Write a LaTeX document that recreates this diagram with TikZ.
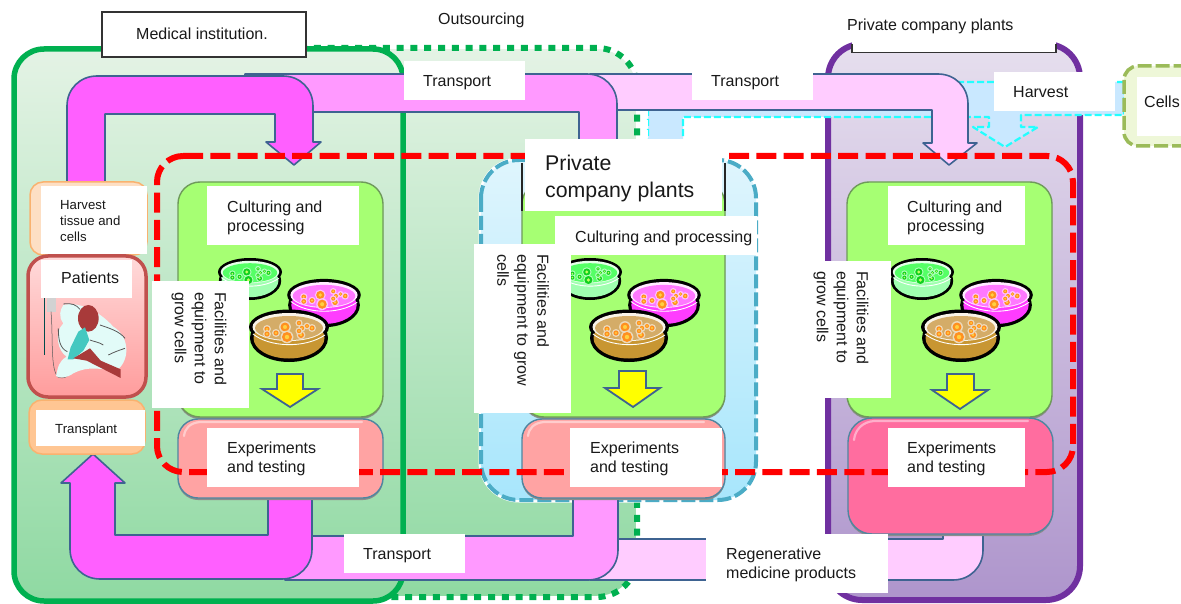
\documentclass[tikz,border=0pt]{standalone}
\usepackage{fontspec}
\setmainfont{Liberation Sans}
\definecolor{lnblue}{HTML}{3E6391}
\definecolor{magA}{HTML}{FF5FFF}
\definecolor{magB}{HTML}{FF99FF}
\definecolor{magC}{HTML}{FFCCFF}
\definecolor{medgreen}{HTML}{00B050}
\definecolor{purp}{HTML}{7030A0}
\definecolor{leaf}{HTML}{A6FF73}
\definecolor{dashblue}{HTML}{4BACC6}
\definecolor{harv}{HTML}{C9E8FF}
\definecolor{cyanline}{HTML}{22FFFF}
\definecolor{ylw}{HTML}{FFFF00}
\definecolor{gtop}{HTML}{E4F3E5}
\definecolor{gbot}{HTML}{8FD9A2}
\definecolor{ptop}{HTML}{E6DFEE}
\definecolor{pbot}{HTML}{AE95CC}
\definecolor{btop}{HTML}{DFF5FD}
\definecolor{bbot}{HTML}{A8E6FC}
\definecolor{patline}{HTML}{C0504D}
\definecolor{pattop}{HTML}{FFDADA}
\definecolor{patbot}{HTML}{FF9C9C}
\definecolor{orgline}{HTML}{F9B26F}
\definecolor{orgfilla}{HTML}{FDDFC4}
\definecolor{orgfillb}{HTML}{FFC693}
\definecolor{exbox}{HTML}{FFA3A3}
\definecolor{exhot}{HTML}{FF6D9F}
\definecolor{exline}{HTML}{4F86A0}
\definecolor{leafline}{HTML}{6E9A5A}
\definecolor{cellline}{HTML}{9BBB59}
\definecolor{cellfill}{HTML}{EEF7D8}
\definecolor{tansurf}{HTML}{D4AC68}
\definecolor{tanside}{HTML}{C89632}
\definecolor{pinksurf}{HTML}{FF78FF}
\definecolor{pinkside}{HTML}{FF3CFF}
\definecolor{grsurf}{HTML}{55FF66}
\definecolor{grside}{HTML}{A0FFB0}
\definecolor{colorg}{HTML}{FF9020}
\definecolor{colyel}{HTML}{FFD040}
\definecolor{colgr}{HTML}{10D020}
\definecolor{colgry}{HTML}{C0FF60}
\definecolor{redpat}{HTML}{A83A3A}
\definecolor{gown}{HTML}{44C8C0}
\definecolor{sheet}{HTML}{E2FBF8}
\tikzset{
  x=1pt,y=-1pt,
  lab/.style={inner sep=0pt,anchor=west,align=left,text=black!90,font=\fontsize{16}{19.5}\selectfont},
  smalllab/.style={lab,font=\fontsize{13.2}{16}\selectfont},
  vert/.style={lab,rotate=-90,font=\fontsize{16}{20}\selectfont},
  band/.style={draw=lnblue,line width=1.6pt,line join=round},
  culture/.style={fill=leaf,draw=leafline,line width=1.4pt,rounded corners=22pt},
  shadowbox/.style={fill=black!45,rounded corners=22pt},
  exper/.style={draw=exline,line width=1.4pt,rounded corners=20pt},
  shine/.style={white,opacity=.45,line width=2.2pt,line cap=round},
  smallarrow/.style={fill=ylw,draw=lnblue,line width=1.8pt,line join=miter},
}
% dish: cx cy scale surface side colony colonycentre
\newcommand{\dish}[7]{%
\begin{scope}[shift={(#1,#2)},x=#3pt,y=-#3pt]
 \fill[black] (0,0) ellipse (40 and 17.5);
 \fill[black] (0,11) ellipse (39 and 24);
 \fill[#5] (0,11) ellipse (35.5 and 20.5);
 \fill[white!85!#4] (0,0) ellipse (36.5 and 14);
 \fill[#4] (0,1) ellipse (34 and 12);
 \draw[white,line width=0.9pt] (-36,7) .. controls (-20,20) and (15,22) .. (36,8);
 \foreach \p/\q/\r in {-4/0/4.5,-2/10/5,-22/2/2.6,-22/7/2.6,-13/6/2.6,12/8/3,10/-4/2.2,13/1/2.2,23/1/2.6,18/-1/2,10/4/2.2}{
   \fill[white!55!#4] (\p,\q) circle ({\r+1.4});
   \fill[#6] (\p,\q) circle (\r);
   \fill[#7] (\p,\q) circle ({\r*0.45});
 }
\end{scope}}
\newcommand{\dishes}[1]{%
\begin{scope}[xshift=#1pt]
 \dish{250}{272}{0.8}{grsurf}{grside}{colgr}{colgry}
 \dish{324}{295}{0.92}{pinksurf}{pinkside}{colorg}{colyel}
 \dish{289}{327}{1}{tansurf}{tanside}{colorg}{colyel}
\end{scope}}
\begin{document}
\begin{tikzpicture}
\useasboundingbox (0,0) rectangle (1181,604);
\fill[white] (0,0) rectangle (1181,604);
% outsourcing
\path[top color=gtop,bottom color=gbot,rounded corners=40pt]
  (300,48) -- (637,48) -- (637,597) -- (300,597) -- cycle;
\draw[white,line width=2pt,rounded corners=40pt] (300,48) -- (637,48) -- (637,597) -- (300,597);
\draw[medgreen,line width=6pt,dash pattern=on 7pt off 6.8pt,rounded corners=40pt] (300,48) -- (637,48) -- (637,597) -- (300,597);
% medical institution
\draw[medgreen,line width=5.5pt,top color=gtop,bottom color=gbot,rounded corners=30pt]
  (14,49) rectangle (403,601);
% private plants (purple)
\draw[purp,line width=6pt,top color=ptop,bottom color=pbot,rounded corners=34pt]
  (828,44) rectangle (1080,600);
% middle dashed
\draw[white,line width=5pt,rounded corners=38pt,fill=none] (481,160) rectangle (756,500);
\draw[dashblue,line width=4pt,dash pattern=on 14pt off 4pt,top color=btop,bottom color=bbot,rounded corners=38pt]
  (481,160) rectangle (756,500);
% harvest arrow
\draw[fill=harv,draw=cyanline,line width=2.2pt,dash pattern=on 7pt off 3pt,line join=round]
  (1124,82) -- (670,82) -- (648,104) -- (648,200) -- (683,200) -- (683,117) -- (989,117) -- (989,127) -- (973,127)
  -- (1005,147) -- (1038,127) -- (1021,127) -- (1021,115) -- (1124,115) -- cycle;
\draw[white,line width=2pt,dash pattern=on 7pt off 3pt] (647,110) -- (647,200);
% light bands
\draw[band,fill=magC] (590,74) -- (938,74) .. controls (955,74) and (968,87) .. (968,104) -- (968,143) -- (977,143) -- (949,165) -- (923,143) -- (932,143) -- (932,110) -- (590,110) -- cycle;
\draw[band,fill=magC] (943,525) -- (943,539) -- (590,539) -- (590,580) -- (953,580) .. controls (970,580) and (983,567) .. (983,550) -- (983,525) -- cycle;
% mid bands
\draw[band,fill=magB] (245,74) -- (587,74) .. controls (604,74) and (617,87) .. (617,104) -- (617,175) -- (579,175) -- (579,112) -- (245,112) -- cycle;
\draw[band,fill=magB] (573,495) -- (573,536) -- (285,536) -- (285,580) -- (588,580) .. controls (605,580) and (618,567) .. (618,550) -- (618,495) -- cycle;
% top magenta arrow
\draw[band,fill=magA] (67,185) -- (67,106) .. controls (67,89) and (80,76) .. (97,76) -- (283,76) .. controls (300,76) and (313,89) .. (313,106) -- (313,142) -- (321,142) -- (294,165) -- (266,142) -- (275,142) -- (275,114) -- (105,114) -- (105,185) -- cycle;
% bottom magenta arrow
\draw[band,fill=magA] (268,495) -- (268,535) -- (115,535) -- (115,483) -- (125,483) -- (93,454) -- (61,483) -- (70,483) -- (70,549) .. controls (70,566) and (83,579) .. (100,579) -- (282,579) .. controls (299,579) and (312,566) .. (312,549) -- (312,495) -- cycle;
% header of the purple box
\fill[white] (852,0) rectangle (1056,52);
\draw[black!80,line width=1.2pt] (852,44) -- (852,52.5) -- (1056,52.5) -- (1056,44);
% left side boxes
\draw[draw=orgline,line width=1.5pt,fill=orgfilla,rounded corners=13pt] (30,182) rectangle (147,255);
\fill[white] (41,186) rectangle (147,254);
\draw[draw=patline,line width=3.5pt,top color=pattop,bottom color=patbot,rounded corners=20pt] (28,256) rectangle (146,397);
\draw[draw=orgline,line width=1.5pt,fill=orgfillb,rounded corners=13pt] (29,400) rectangle (145,454);
% culture boxes
\fill[shadowbox] (178,184) rectangle (383,419);
\fill[shadowbox] (522,184) rectangle (725,419);
\fill[shadowbox] (847,184) rectangle (1052,419);
\draw[culture] (178,182) rectangle (383,417);
\draw[culture] (522,182) rectangle (725,417);
\draw[culture] (847,182) rectangle (1052,417);
% dishes and yellow arrows
\dishes{0}
\dishes{340}
\dishes{672}
\draw[smallarrow] (277,374) -- (303,374) -- (303,389) -- (318,389) -- (290,407) -- (262,389) -- (277,389) -- cycle;
\draw[smallarrow] (619,371) -- (646,371) -- (646,388) -- (660,388) -- (633,407) -- (605,388) -- (619,388) -- cycle;
\draw[smallarrow] (947,374) -- (974,374) -- (974,390) -- (988,390) -- (960,409) -- (932,390) -- (947,390) -- cycle;
% experiment boxes
\fill[shadowbox,rounded corners=20pt] (178,421) rectangle (383,500);
\fill[shadowbox,rounded corners=20pt] (522,421) rectangle (725,500);
\fill[shadowbox,rounded corners=24pt] (848,420) rectangle (1053,536);
\draw[exper,fill=exbox] (178,419) rectangle (383,498);
\draw[exper,fill=exbox] (522,419) rectangle (725,498);
\draw[exper,fill=exhot,rounded corners=24pt] (848,418) rectangle (1053,534);
\draw[shine] (184,436) .. controls (185,428) and (190,423) .. (200,422) -- (362,422);
\draw[shine] (528,436) .. controls (529,428) and (534,423) .. (544,422) -- (704,422);
\draw[shine] (854,440) .. controls (855,430) and (862,422) .. (874,421) -- (1028,421);
% patient drawing
\begin{scope}[shift={(30,290)},x=0.3333pt,y=-0.3333pt]
 \draw[teal!60!black,line width=1.2pt] (44,25) -- (44,195);
 \fill[gray!35] (52,25) rectangle (78,65);
 \draw[gray!70!black,line width=.5pt] (63,65) .. controls (70,140) and (60,240) .. (85,262) .. controls (100,268) and (115,260) .. (125,245);
 \fill[sheet] (100,45) .. controls (140,35) and (200,55) .. (250,110) .. controls (300,140) and (300,210) .. (262,240) .. controls (210,240) and (180,225) .. (130,250) .. controls (110,265) and (85,265) .. (78,258) .. controls (85,230) and (85,215) .. (110,200) .. controls (85,185) and (70,130) .. (100,100) .. controls (85,80) and (90,60) .. (100,45) -- cycle;
 \draw[black!65,line width=.8pt] (100,42) .. controls (125,38) and (140,45) .. (150,58) (210,105) .. controls (240,115) and (270,125) .. (285,145) (85,115) .. controls (85,150) and (90,175) .. (112,185) (235,195) .. controls (255,185) and (270,180) .. (285,175) (180,150) .. controls (190,155) and (205,155) .. (220,165);
 \fill[redpat] (175,85) ellipse (31 and 40);
 \fill[gown] (122,172) -- (145,125) -- (165,112) -- (178,150) -- (160,182) -- (130,208) -- (113,208) -- cycle;
 \fill[redpat] (130,205) -- (180,175) -- (212,212) -- (272,238) -- (272,264) -- (225,240) -- (170,212) -- cycle;
\end{scope}
% cells box
\draw[draw=cellline,line width=3.5pt,dash pattern=on 14pt off 4pt,fill=cellfill,rounded corners=14pt] (1124,66) rectangle (1200,146);
\fill[white] (1137,77) rectangle (1181,136);
% red dashed boundary
\draw[red,line width=6pt,dash pattern=on 20pt off 7.3pt,rounded corners=26pt] (157,156) -- (1073,156) -- (1073,472) -- (157,472) -- cycle;
% white label rectangles
\draw[black!80,line width=1.2pt,fill=white] (102,12) rectangle (306,57);
\fill[white] (404,61) rectangle (525,100);
\fill[white] (692,61) rectangle (813,100);
\fill[white] (994,72) rectangle (1115,111);
\fill[white] (41,260) rectangle (132,298);
\fill[white] (36,410) rectangle (145,446);
\fill[white] (152,281) rectangle (249,408);
\fill[white] (207,186) rectangle (359,245);
\fill[white] (888,186) rectangle (1025,245);
\draw[black!85,line width=1.2pt] (522,163) -- (522,211) (725,163) -- (725,211);
\fill[white] (525,139) rectangle (722,211);
\fill[white] (555,216) rectangle (757,255);
\fill[white] (474,244) rectangle (571,413);
\fill[white] (794,261) rectangle (891,398);
\fill[white] (207,428) rectangle (359,487);
\fill[white] (570,428) rectangle (722,487);
\fill[white] (888,428) rectangle (1025,487);
\fill[white] (344,534) rectangle (465,573);
\fill[white] (706,534) rectangle (888,593);
% text
\node[lab] (medical) at (136,34) {Medical institution.};
\node[lab] (outsourcing) at (438,20) {Outsourcing};
\node[lab] (privatetop) at (847,26) {Private company plants};
\node[lab] (transa) at (423,83) {Transport};
\node[lab] (transb) at (711,83) {Transport};
\node[lab] (harvesttop) at (1013,92) {Harvest};
\node[lab] (cells) at (1144,102) {Cells};
\node[smalllab] (harvestcells) at (60,221) {Harvest\\tissue and\\cells};
\node[lab] (patients) at (61,278) {Patients};
\node[smalllab] (transplant) at (55,430) {Transplant};
\node[lab] (cula) at (227,218) {Culturing and\\processing};
\node[lab] (culc) at (907,218) {Culturing and\\processing};
\node[lab] (culb) at (575,238) {Culturing and processing};
\node[lab,font=\fontsize{21.3}{27}\selectfont] (privatemid) at (545,178) {Private\\company plants};
\node[vert] (faca) at (199,292) {Facilities and\\equipment to\\grow cells};
\node[vert] (facb) at (523,254) {Facilities and\\equipment to grow\\cells};
\node[vert] (facc) at (841,271) {Facilities and\\equipment to\\grow cells};
\node[lab] (expa) at (227,459) {Experiments\\and testing};
\node[lab] (expb) at (590,459) {Experiments\\and testing};
\node[lab] (expc) at (907,459) {Experiments\\and testing};
\node[lab] (transc) at (363,556) {Transport};
\node[lab] (regen) at (726,565) {Regenerative\\medicine products};
\end{tikzpicture}
\end{document}
